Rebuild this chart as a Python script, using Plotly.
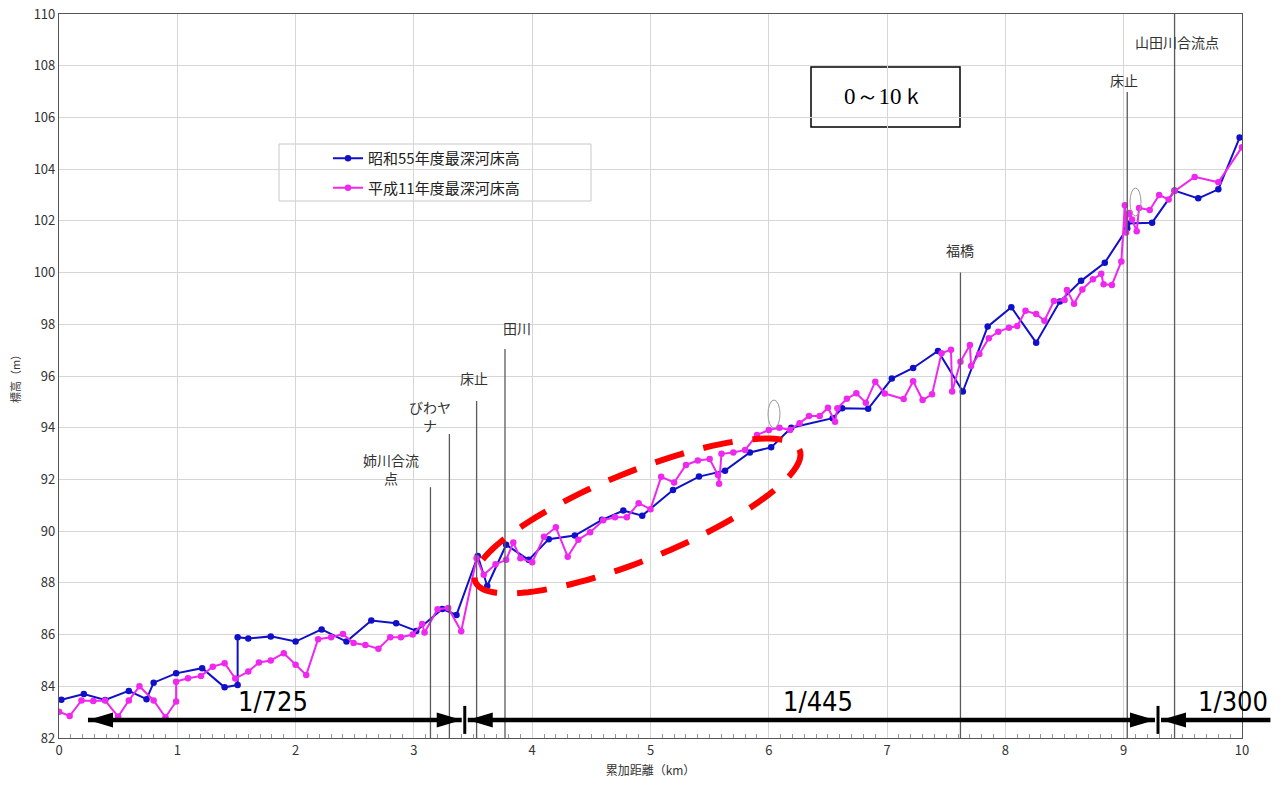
import math
import plotly.graph_objects as go

# ---------------- data ----------------
series_names = ["昭和55年度最深河床高", "平成11年度最深河床高"]

s55_x = [0.02, 0.21, 0.39, 0.59, 0.74, 0.80, 0.99, 1.21, 1.40, 1.51, 1.51, 1.60, 1.79,
         2.00, 2.22, 2.43, 2.64, 2.85, 3.02, 3.24, 3.36, 3.54, 3.62, 3.78, 3.97, 4.14,
         4.36, 4.59, 4.77, 4.93, 5.19, 5.41, 5.63, 5.84, 6.02, 6.19, 6.54, 6.62, 6.84,
         7.04, 7.22, 7.43, 7.64, 7.85, 8.05, 8.26, 8.46, 8.64, 8.84, 9.03, 9.03, 9.24,
         9.43, 9.63, 9.80, 9.98]
s55_y = [83.48, 83.70, 83.47, 83.82, 83.50, 84.14, 84.50, 84.70, 83.96, 84.05, 85.90, 85.85, 85.93,
         85.73, 86.20, 85.73, 86.54, 86.44, 86.14, 86.99, 86.76, 89.04, 87.88, 89.47, 88.89, 89.69,
         89.83, 90.44, 90.80, 90.60, 91.59, 92.11, 92.34, 93.04, 93.24, 94.00, 94.37, 94.75, 94.73,
         95.90, 96.31, 96.97, 95.40, 97.91, 98.66, 97.29, 98.88, 99.68, 100.38, 101.71, 101.90, 101.93,
         103.17, 102.87, 103.22, 105.22]

h11_x = [0.00, 0.09, 0.19, 0.29, 0.39, 0.50, 0.59, 0.68, 0.80, 0.90, 0.99, 0.99, 1.09, 1.20,
         1.30, 1.40, 1.49, 1.60, 1.69, 1.79, 1.90, 2.00, 2.09, 2.19, 2.30, 2.40, 2.49, 2.59,
         2.70, 2.80, 2.89, 2.99, 3.07, 3.09, 3.20, 3.29, 3.40, 3.53, 3.59, 3.69, 3.78, 3.84,
         3.90, 4.00, 4.10, 4.20, 4.30, 4.39, 4.49, 4.60, 4.70, 4.80, 4.90, 5.00, 5.09, 5.20,
         5.30, 5.40, 5.50, 5.57, 5.58, 5.60, 5.70, 5.80, 5.90, 6.00, 6.09, 6.18, 6.26, 6.34,
         6.43, 6.50, 6.56, 6.58, 6.66, 6.74, 6.82, 6.90, 6.98, 7.14, 7.22, 7.30, 7.38, 7.46,
         7.54, 7.55, 7.62, 7.70, 7.71, 7.78, 7.86, 7.94, 8.03, 8.10, 8.17, 8.26, 8.33, 8.41,
         8.50, 8.52, 8.58, 8.65, 8.74, 8.81, 8.83, 8.90, 8.98, 9.01, 9.02, 9.03, 9.05, 9.07,
         9.11, 9.13, 9.22, 9.30, 9.38, 9.43, 9.60, 9.80, 10.00]
h11_y = [83.02, 82.85, 83.45, 83.43, 83.45, 82.83, 83.45, 84.00, 83.45, 82.80, 83.41, 84.18, 84.31, 84.40,
         84.76, 84.89, 84.30, 84.57, 84.92, 85.00, 85.28, 84.83, 84.44, 85.82, 85.90, 86.02, 85.67, 85.60,
         85.45, 85.90, 85.90, 86.00, 86.41, 86.08, 86.98, 87.03, 86.13, 88.95, 88.31, 88.72, 88.89, 89.56,
         88.95, 88.80, 89.78, 90.15, 89.01, 89.67, 89.96, 90.42, 90.54, 90.54, 91.08, 90.85, 92.10, 91.88,
         92.56, 92.73, 92.79, 92.17, 91.83, 92.99, 93.04, 93.14, 93.72, 93.91, 94.00, 93.91, 94.17, 94.45,
         94.45, 94.77, 94.23, 94.75, 95.12, 95.33, 94.97, 95.78, 95.32, 95.11, 95.80, 95.07, 95.29, 96.88,
         97.02, 95.40, 96.55, 97.20, 96.39, 96.85, 97.46, 97.71, 97.87, 97.93, 98.52, 98.40, 98.14, 98.90,
         98.94, 99.33, 98.79, 99.35, 99.74, 99.95, 99.55, 99.52, 100.43, 102.60, 101.55, 102.25, 102.30, 102.05,
         101.60, 102.50, 102.42, 103.00, 102.83, 103.15, 103.70, 103.49, 104.85]

landmark_names = ["姉川合流<br>点", "びわヤ<br>ナ", "床止", "田川", "福橋", "床止", "山田川合流点"]
landmark_x = [3.14, 3.30, 3.53, 3.77, 7.62, 9.03, 9.43]
landmark_top = [91.70, 93.76, 95.03, 97.04, 100.00, 106.98, 110.00]
landmark_label_x = [2.81, 3.14, 3.51, 3.87, 7.62, 9.00, 9.45]
landmark_label_y = [92.40, 94.45, 95.92, 97.86, 100.87, 107.45, 108.92]

gradient_labels = ["1/725", "1/445", "1/300"]
gradient_label_x = [1.81, 6.42, 9.92]
gradient_bounds = [0.245, 3.43, 9.29, 10.24]
gradient_y = 82.70

x_range = [0, 10]
y_range = [82, 110]

# ---------------- layout geometry ----------------
W, H = 1285, 792
ML, MR, MT, MB = 59, 43, 14, 54
PW, PH = W - ML - MR, H - MT - MB


def px2paper(px, py):
    return (px - ML) / PW, (H - MB - py) / PH


def d2paper(x, y):
    return ((x - x_range[0]) / (x_range[1] - x_range[0]),
            (y - y_range[0]) / (y_range[1] - y_range[0]))


KM_PX = (x_range[1] - x_range[0]) / PW
M_PX = (y_range[1] - y_range[0]) / PH

CJK = "Noto Sans CJK JP, Noto Sans, sans-serif"
NARROW = "Liberation Sans Narrow, DejaVu Sans Condensed, Noto Sans CJK JP, sans-serif"

fig = go.Figure()
fig.add_trace(go.Scatter(x=s55_x, y=s55_y, mode="lines+markers", name=series_names[0],
                         legendgroup="a",
                         line=dict(color="#1010C8", width=2),
                         marker=dict(color="#1010C8", size=6.5)))
fig.add_trace(go.Scatter(x=h11_x, y=h11_y, mode="lines+markers", name=series_names[1],
                         legendgroup="b",
                         line=dict(color="#EE28EE", width=2),
                         marker=dict(color="#EE28EE", size=6.5)))

shapes = []
annotations = []

# landmark vertical lines + labels
for name, lx, top, tx, ty in zip(landmark_names, landmark_x, landmark_top,
                                 landmark_label_x, landmark_label_y):
    shapes.append(dict(type="line", xref="x", yref="y", x0=lx, x1=lx, y0=y_range[0], y1=top,
                       line=dict(color="#5a5a5a", width=1.3), layer="above"))
    annotations.append(dict(x=tx, y=ty, xref="x", yref="y", text=name, showarrow=False,
                            font=dict(family=CJK, size=14, color="#333333"),
                            xanchor="center", yanchor="middle", align="center"))

# gradient arrows
hl = 25 * KM_PX       # arrowhead length (km)
hh = 7.5 * M_PX       # arrowhead half height (m)
gap = 3 * KM_PX
tick_h = 14 * M_PX


def head_path(tip_x, direction):
    xa0, ya0 = d2paper(tip_x, gradient_y)
    xb, yb1 = d2paper(tip_x - direction * hl, gradient_y + hh)
    _, yb2 = d2paper(tip_x - direction * hl, gradient_y - hh)
    return dict(type="path", xref="paper", yref="paper", layer="above",
                path=f"M {xa0},{ya0} L {xb},{yb1} L {xb},{yb2} Z",
                fillcolor="black", line=dict(color="black", width=0))


for i in range(3):
    a, b = gradient_bounds[i], gradient_bounds[i + 1]
    left = a + (gap if i > 0 else 0)
    right = b - (gap if i < 2 else 0)
    p0 = d2paper(left, gradient_y)
    p1 = d2paper(right, gradient_y)
    shapes.append(dict(type="line", xref="paper", yref="paper", x0=p0[0], x1=p1[0],
                       y0=p0[1], y1=p1[1], line=dict(color="black", width=4.5), layer="above"))
    shapes.append(head_path(left, -1))
    if i < 2:
        shapes.append(head_path(right, 1))
        shapes.append(dict(type="line", xref="x", yref="y", x0=b, x1=b,
                           y0=gradient_y - tick_h, y1=gradient_y + tick_h,
                           line=dict(color="black", width=3), layer="above"))
for lab, lx in zip(gradient_labels, gradient_label_x):
    annotations.append(dict(x=lx, y=gradient_y, xref="x", yref="y", text=lab, showarrow=False,
                            xanchor="center", yanchor="bottom", yshift=1,
                            font=dict(family=NARROW, size=27, color="black")))

# red dashed ellipse (highlight)
cx, cy, ra, rb, ang = 637.5, 516.0, 175.0, 44.0, math.radians(22.1)
pts = []
for k in range(121):
    t = 2 * math.pi * k / 120
    px = cx + ra * math.cos(t) * math.cos(ang) + rb * math.sin(t) * math.sin(ang)
    py = cy - ra * math.cos(t) * math.sin(ang) + rb * math.sin(t) * math.cos(ang)
    pts.append(px2paper(px, py))
path = "M " + " L ".join(f"{x:.5f},{y:.5f}" for x, y in pts) + " Z"
shapes.append(dict(type="path", xref="paper", yref="paper", path=path, layer="above",
                   line=dict(color="#FF0000", width=6, dash="30px,20px")))

# small gray ovals
for (x0, y0, x1, y1) in [(768, 400, 780, 428), (1130, 188, 1141, 216)]:
    p0 = px2paper(x0, y1)
    p1 = px2paper(x1, y0)
    shapes.append(dict(type="circle", xref="paper", yref="paper", x0=p0[0], y0=p0[1],
                       x1=p1[0], y1=p1[1], line=dict(color="#9a9a9a", width=1), layer="above"))

# legend box
lb0 = px2paper(279, 201)
lb1 = px2paper(591, 144)
shapes.append(dict(type="rect", xref="paper", yref="paper", x0=lb0[0], y0=lb0[1], x1=lb1[0], y1=lb1[1],
                   fillcolor="white", line=dict(color="#c8c8c8", width=1), layer="between"))

# "0～10ｋ" box
tb0 = px2paper(811, 127)
tb1 = px2paper(960, 67)
shapes.append(dict(type="rect", xref="paper", yref="paper", x0=tb0[0], y0=tb0[1], x1=tb1[0], y1=tb1[1],
                   fillcolor="white", line=dict(color="black", width=1.5), layer="between"))
tc = px2paper(884, 97)
annotations.append(dict(x=tc[0], y=tc[1], xref="paper", yref="paper", text="0～10ｋ", showarrow=False,
                        xanchor="center", yanchor="middle",
                        font=dict(family="Liberation Serif, DejaVu Serif, serif", size=23, color="black")))

lg = px2paper(328, 142)
fig.update_layout(
    width=W, height=H,
    margin=dict(l=ML, r=MR, t=MT, b=MB, autoexpand=False),
    paper_bgcolor="white", plot_bgcolor="white",
    font=dict(family=CJK, size=12, color="#333333"),
    showlegend=True,
    legend=dict(x=lg[0], y=lg[1], xanchor="left", yanchor="top", bgcolor="rgba(0,0,0,0)",
                borderwidth=0, font=dict(family=CJK, size=15, color="#222222"),
                tracegroupgap=7, itemwidth=30),
    shapes=shapes,
    annotations=annotations,
    xaxis=dict(range=x_range, dtick=1, tick0=0, showgrid=True, gridcolor="#d6d6d6", gridwidth=1,
               showline=True, linecolor="#555555", linewidth=1.2, mirror=True, zeroline=False,
               automargin=False,
               ticks="", tickfont=dict(size=13, color="#333333"),
               minor=dict(dtick=0.1, ticks="inside", ticklen=4, tickcolor="#999999", showgrid=False),
               title=dict(text="累加距離（km）", font=dict(size=12, color="#333333"), standoff=8)),
    yaxis=dict(range=y_range, dtick=2, tick0=82, showgrid=True, gridcolor="#d6d6d6", gridwidth=1,
               showline=True, linecolor="#555555", linewidth=1.2, mirror=True, zeroline=False,
               automargin=False,
               ticks="", tickfont=dict(size=13, color="#333333"),
               title=dict(text="標高（m）", font=dict(size=11, color="#333333"), standoff=10)),
)

fig.write_html("out.html", config={"displayModeBar": False},
               post_script="document.body.style.margin='0';document.body.style.overflow='hidden';")
